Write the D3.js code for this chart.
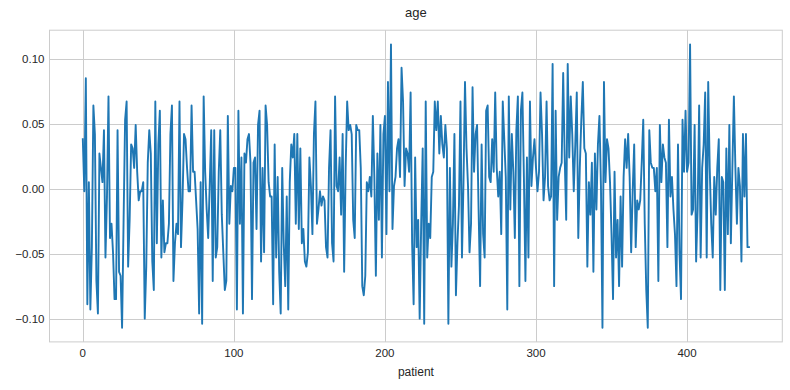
<!DOCTYPE html>
<html>
<head>
<meta charset="utf-8">
<script src="https://cdn.jsdelivr.net/npm/d3@7/dist/d3.min.js"></script>
<style>
  body { margin: 0; background: #fff; }
  #chart text { font-family: "Liberation Sans", Arial, sans-serif; fill: #262626; }
</style>
</head>
<body>
<div id="chart"></div>
<script>
const chartTitle = "age";
const xLabel = "patient";
const xTicks = [0, 100, 200, 300, 400];
const yTicks = [-0.1, -0.05, 0, 0.05, 0.1];

// one value per patient
const ageValues = [
  0.038,-0.002,0.085,-0.089,0.005,-0.093,-0.045,0.064,0.042,-0.071,
  -0.096,0.027,0.016,0.005,0.045,-0.053,-0.006,0.071,-0.038,-0.027,
  -0.049,-0.085,-0.085,0.045,-0.064,-0.067,-0.107,-0.024,0.053,0.067,
  -0.060,-0.024,0.034,0.031,0.016,0.049,0.013,-0.009,-0.002,-0.002,
  0.005,-0.100,-0.060,0.020,0.045,0.027,-0.056,-0.078,0.067,-0.042,
  0.034,0.060,-0.053,-0.009,-0.049,-0.042,-0.042,-0.027,0.042,0.064,
  -0.071,-0.042,-0.027,-0.035,0.067,-0.045,-0.009,0.042,0.038,0.016,
  -0.002,-0.002,0.064,0.013,0.013,-0.009,-0.031,-0.096,0.005,-0.104,
  0.071,0.013,-0.016,-0.038,0.002,0.045,-0.071,0.045,-0.053,-0.045,
  0.013,0.045,-0.020,-0.049,-0.078,-0.071,0.056,-0.027,0.002,-0.002,
  0.016,0.016,-0.093,0.060,-0.027,0.024,-0.096,0.027,0.020,0.038,
  0.042,0.020,-0.085,0.020,0.024,-0.031,0.049,0.060,-0.056,0.016,
  -0.049,0.064,0.049,0.005,-0.006,-0.006,-0.089,0.034,-0.053,0.009,
  -0.064,-0.096,0.016,-0.042,-0.075,-0.006,-0.093,0.005,0.034,0.024,
  0.042,-0.027,0.042,-0.031,0.031,-0.042,-0.031,-0.056,-0.060,-0.049,
  0.024,0.002,-0.035,0.042,0.067,-0.027,-0.016,-0.002,-0.013,-0.006,
  -0.009,-0.045,-0.053,0.016,0.045,-0.042,-0.056,0.071,0.002,-0.002,
  0.024,-0.020,0.042,-0.064,0.016,0.067,0.045,0.049,0.042,-0.024,
  -0.038,0.049,0.045,0.045,0.016,-0.075,-0.082,-0.067,0.005,-0.002,
  0.009,-0.006,0.056,0.009,-0.067,0.027,-0.024,0.049,-0.053,0.042,
  0.056,-0.035,0.082,-0.002,0.111,-0.031,0.002,0.009,0.031,0.038,
  0.009,0.093,0.067,0.002,0.031,0.027,0.013,0.074,-0.042,-0.089,
  0.024,-0.045,-0.024,-0.100,-0.027,0.031,-0.104,0.067,-0.053,-0.027,
  -0.038,0.009,0.013,0.067,0.045,0.067,0.027,0.056,0.034,0.024,
  0.049,0.031,-0.104,0.016,-0.060,-0.027,0.042,-0.082,-0.042,-0.013,
  0.067,-0.053,0.005,0.082,0.031,0.002,-0.049,-0.027,0.078,0.013,
  0.042,0.049,-0.016,-0.075,0.034,-0.035,-0.053,0.060,0.064,0.009,
  0.005,0.038,0.013,0.074,0.016,-0.006,0.013,-0.035,0.067,0.038,
  0.009,-0.093,0.071,-0.016,0.042,0.013,-0.038,0.045,0.071,-0.075,
  0.060,0.074,0.009,-0.071,0.024,-0.053,0.067,0.002,0.024,0.038,
  0.016,-0.002,0.013,0.074,0.042,-0.009,0.009,0.067,0.002,-0.009,
  -0.006,0.096,-0.075,0.060,-0.024,0.009,0.016,0.020,0.089,0.024,
  -0.024,0.096,0.024,0.071,0.042,-0.002,0.034,0.074,-0.038,0.016,
  0.053,0.082,0.031,0.027,-0.060,0.005,-0.020,0.020,-0.064,0.027,
  -0.016,0.034,0.056,0.002,-0.107,0.082,0.005,0.038,0.031,0.005,
  -0.035,-0.085,0.013,-0.053,-0.024,-0.075,-0.006,-0.060,0.009,0.038,
  0.016,0.042,0.009,-0.049,-0.002,0.034,-0.045,-0.009,-0.016,-0.009,
  0.020,0.053,-0.027,-0.078,-0.107,0.045,0.020,0.016,0.016,-0.002,
  0.016,-0.071,0.049,0.005,0.034,0.024,0.020,-0.045,0.053,-0.006,
  0.009,-0.016,-0.035,-0.075,0.034,-0.049,-0.085,0.053,0.013,0.060,
  0.013,0.020,0.111,-0.020,-0.016,0.049,-0.056,-0.016,0.064,-0.053,
  0.016,0.034,0.074,-0.053,0.082,0.016,-0.027,-0.053,0.009,-0.020,
  0.016,0.038,-0.078,0.009,0.005,-0.078,0.031,-0.035,0.049,-0.042,
  0.016,0.071,0.016,-0.027,0.016,0.002,-0.056,0.042,-0.006,0.042,
  -0.045,-0.045
];

var AgeModule = (() => {

    const width = 790, height = 390;
    const margin = {
        top: 30.2,
        right: 7.7,
        bottom: 48.1,
        left: 49.5
    };
    const gridColor = "#cccccc", lineColor = "#1f77b4";

    const n = ageValues.length;
    const xPad = (n - 1) * 0.05;
    const [yMin, yMax] = d3.extent(ageValues);
    const yPad = (yMax - yMin) * 0.05;

    const xScale = d3.scaleLinear()
        .domain([-xPad, n - 1 + xPad])
        .range([margin.left, width - margin.right]);

    const yScale = d3.scaleLinear()
        .domain([yMin - yPad, yMax + yPad])
        .range([height - margin.bottom, margin.top]);

    const svg = d3.select("#chart")
        .append("svg")
        .attr("width", width)
        .attr("height", height);

    // grid
    svg.append("g")
        .attr("stroke", gridColor)
        .attr("stroke-width", 1)
        .call(g => g.selectAll(".gx")
            .data(xTicks)
            .join("line")
            .attr("x1", d => Math.round(xScale(d)) + 0.5)
            .attr("x2", d => Math.round(xScale(d)) + 0.5)
            .attr("y1", margin.top)
            .attr("y2", height - margin.bottom))
        .call(g => g.selectAll(".gy")
            .data(yTicks)
            .join("line")
            .attr("x1", margin.left)
            .attr("x2", width - margin.right)
            .attr("y1", d => Math.round(yScale(d)) + 0.5)
            .attr("y2", d => Math.round(yScale(d)) + 0.5));

    // frame
    svg.append("rect")
        .attr("x", margin.left)
        .attr("y", margin.top)
        .attr("width", width - margin.left - margin.right)
        .attr("height", height - margin.top - margin.bottom)
        .attr("fill", "none")
        .attr("stroke", gridColor)
        .attr("stroke-width", 1);

    const line = d3.line()
        .x((d, i) => xScale(i))
        .y(d => yScale(d));

    svg.append("path")
        .datum(ageValues)
        .attr("fill", "none")
        .attr("stroke", lineColor)
        .attr("stroke-width", 1.9)
        .attr("stroke-linejoin", "round")
        .attr("stroke-linecap", "square")
        .attr("d", line);

    // tick labels
    const yFormat = d3.format(".2f");
    svg.append("g")
        .attr("font-size", "11.5px")
        .attr("text-anchor", "end")
        .selectAll("text")
        .data(yTicks)
        .join("text")
        .attr("x", margin.left - 5)
        .attr("y", d => yScale(d))
        .attr("dy", "0.35em")
        .text(d => yFormat(d));

    svg.append("g")
        .attr("font-size", "11.5px")
        .attr("text-anchor", "middle")
        .selectAll("text")
        .data(xTicks)
        .join("text")
        .attr("x", d => xScale(d))
        .attr("y", height - margin.bottom + 15)
        .text(d => d);

    svg.append("text")
        .attr("x", (margin.left + width - margin.right) / 2)
        .attr("y", 376)
        .attr("text-anchor", "middle")
        .attr("font-size", "12px")
        .text(xLabel);

    svg.append("text")
        .attr("x", (margin.left + width - margin.right) / 2)
        .attr("y", 17)
        .attr("text-anchor", "middle")
        .attr("font-size", "13px")
        .text(chartTitle);

})();
</script>
</body>
</html>
